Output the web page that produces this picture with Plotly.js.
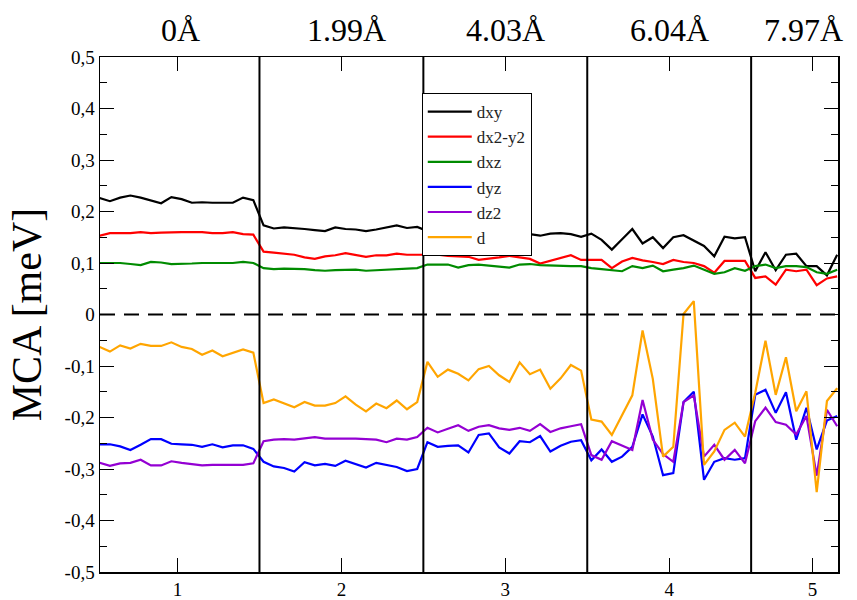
<!DOCTYPE html>
<html>
<head>
<meta charset="utf-8">
<script src="https://cdn.plot.ly/plotly-3.0.1.min.js"></script>
<style>html,body{margin:0;padding:0;background:#fff;}</style>
</head>
<body>
<div id="chart" style="width:857px;height:600px;"></div>
<script>
// x positions of the samples (16 per unit cell segment)
var xPos = [
  0.525, 0.5875, 0.65, 0.7125, 0.775, 0.8375, 0.9, 0.9625, 1.025, 1.0875, 1.15, 1.2125, 1.275, 1.3375, 1.4, 1.4625,
  1.525, 1.5875, 1.65, 1.7125, 1.775, 1.8375, 1.9, 1.9625, 2.025, 2.0875, 2.15, 2.2125, 2.275, 2.3375, 2.4, 2.4625,
  2.525, 2.5875, 2.65, 2.7125, 2.775, 2.8375, 2.9, 2.9625, 3.025, 3.0875, 3.15, 3.2125, 3.275, 3.3375, 3.4, 3.4625,
  3.525, 3.5875, 3.65, 3.7125, 3.775, 3.8375, 3.9, 3.9625, 4.025, 4.0875, 4.15, 4.2125, 4.275, 4.3375, 4.4, 4.4625,
  4.525, 4.5875, 4.65, 4.7125, 4.775, 4.8375, 4.9, 4.9625, 5.025
];

var dxy = [
  0.226, 0.220, 0.227, 0.231, 0.227, 0.221, 0.216, 0.228, 0.224, 0.217, 0.218, 0.217, 0.217, 0.217, 0.227, 0.222,
  0.173, 0.167, 0.169, 0.168, 0.166, 0.164, 0.162, 0.169, 0.166, 0.165, 0.162, 0.165, 0.169, 0.173, 0.168, 0.170,
  0.162, 0.160, 0.161, 0.159, 0.160, 0.158, 0.160, 0.159, 0.158, 0.157, 0.156, 0.153, 0.157, 0.158, 0.156, 0.151,
  0.157, 0.145, 0.126, 0.146, 0.166, 0.138, 0.150, 0.129, 0.150, 0.154, 0.143, 0.133, 0.113, 0.151, 0.148, 0.150,
  0.084, 0.121, 0.086, 0.116, 0.118, 0.094, 0.094, 0.076, 0.116
];
var dx2y2 = [
  0.153, 0.158, 0.158, 0.158, 0.160, 0.158, 0.159, 0.160, 0.160, 0.160, 0.160, 0.158, 0.158, 0.160, 0.156, 0.155,
  0.122, 0.120, 0.118, 0.116, 0.111, 0.108, 0.113, 0.115, 0.119, 0.115, 0.112, 0.115, 0.115, 0.118, 0.116, 0.116,
  0.116, 0.116, 0.114, 0.113, 0.112, 0.106, 0.108, 0.111, 0.114, 0.111, 0.108, 0.099, 0.104, 0.109, 0.115, 0.106,
  0.106, 0.106, 0.090, 0.103, 0.110, 0.105, 0.102, 0.098, 0.106, 0.102, 0.100, 0.094, 0.081, 0.104, 0.104, 0.104,
  0.071, 0.074, 0.058, 0.087, 0.084, 0.087, 0.057, 0.070, 0.074
];
var dxz = [
  0.100, 0.100, 0.100, 0.098, 0.096, 0.102, 0.101, 0.098, 0.098, 0.099, 0.100, 0.100, 0.100, 0.100, 0.102, 0.100,
  0.090, 0.088, 0.089, 0.089, 0.088, 0.086, 0.085, 0.086, 0.087, 0.087, 0.085, 0.086, 0.088, 0.089, 0.089, 0.090,
  0.097, 0.097, 0.097, 0.091, 0.096, 0.097, 0.095, 0.094, 0.091, 0.097, 0.098, 0.096, 0.095, 0.095, 0.094, 0.094,
  0.090, 0.088, 0.086, 0.084, 0.094, 0.090, 0.095, 0.084, 0.087, 0.090, 0.095, 0.087, 0.079, 0.082, 0.090, 0.085,
  0.094, 0.097, 0.090, 0.094, 0.094, 0.092, 0.082, 0.079, 0.087
];
var dyz = [
  -0.252, -0.252, -0.256, -0.263, -0.253, -0.242, -0.242, -0.251, -0.252, -0.253, -0.257, -0.252, -0.258, -0.254, -0.254, -0.261,
  -0.286, -0.295, -0.298, -0.305, -0.287, -0.293, -0.290, -0.294, -0.284, -0.290, -0.297, -0.288, -0.292, -0.296, -0.304, -0.300,
  -0.248, -0.257, -0.255, -0.254, -0.268, -0.234, -0.231, -0.258, -0.270, -0.246, -0.248, -0.236, -0.266, -0.255, -0.247, -0.244,
  -0.283, -0.262, -0.286, -0.276, -0.257, -0.194, -0.237, -0.312, -0.308, -0.170, -0.150, -0.321, -0.286, -0.279, -0.282, -0.279,
  -0.156, -0.146, -0.191, -0.151, -0.243, -0.181, -0.262, -0.206, -0.197
];
var dz2 = [
  -0.288, -0.294, -0.289, -0.288, -0.282, -0.293, -0.293, -0.285, -0.288, -0.290, -0.293, -0.292, -0.292, -0.292, -0.292, -0.289,
  -0.246, -0.243, -0.242, -0.243, -0.241, -0.238, -0.241, -0.241, -0.240, -0.241, -0.242, -0.243, -0.248, -0.241, -0.243, -0.238,
  -0.220, -0.229, -0.222, -0.215, -0.226, -0.218, -0.215, -0.221, -0.224, -0.220, -0.226, -0.213, -0.228, -0.221, -0.217, -0.213,
  -0.273, -0.282, -0.246, -0.255, -0.263, -0.166, -0.243, -0.271, -0.286, -0.170, -0.157, -0.276, -0.253, -0.282, -0.263, -0.289,
  -0.207, -0.181, -0.209, -0.214, -0.233, -0.197, -0.313, -0.185, -0.217
];
var dTot = [
  -0.063, -0.072, -0.060, -0.066, -0.057, -0.061, -0.061, -0.054, -0.063, -0.067, -0.078, -0.070, -0.081, -0.074, -0.068, -0.074,
  -0.172, -0.165, -0.172, -0.180, -0.170, -0.177, -0.177, -0.172, -0.159, -0.175, -0.188, -0.173, -0.182, -0.167, -0.184, -0.170,
  -0.092, -0.121, -0.107, -0.115, -0.128, -0.106, -0.100, -0.118, -0.131, -0.093, -0.116, -0.107, -0.144, -0.124, -0.098, -0.109,
  -0.204, -0.208, -0.234, -0.196, -0.157, -0.031, -0.125, -0.276, -0.257, 0.001, 0.026, -0.292, -0.266, -0.224, -0.210, -0.237,
  -0.152, -0.051, -0.156, -0.083, -0.188, -0.149, -0.345, -0.168, -0.143
];

var seriesNames = ['dxy', 'dx2-y2', 'dxz', 'dyz', 'dz2', 'd'];
var seriesColors = ['#000000', '#ff0000', '#008b00', '#0000ff', '#9400d3', '#ffa500'];
var seriesData = [dxy, dx2y2, dxz, dyz, dz2, dTot];

var boundaries = [1.5, 2.5, 3.5, 4.5];
var distLabels = ['0Å', '1.99Å', '4.03Å', '6.04Å', '7.97Å'];
var distLabelX = [1.02, 2.03, 3.0, 4.0, 4.82];

var xTickVals = [1, 2, 3, 4, 4.875];
var xTickText = ['1', '2', '3', '4', '5'];
var yTickVals = [-0.5, -0.4, -0.3, -0.2, -0.1, 0, 0.1, 0.2, 0.3, 0.4, 0.5];
var yTickText = ['-0,5', '-0,4', '-0,3', '-0,2', '-0,1', '0', '0,1', '0,2', '0,3', '0,4', '0,5'];

var SERIF = '"Liberation Serif", "Times New Roman", serif';

var traces = seriesData.map(function (ys, i) {
  return {
    x: xPos, y: ys, type: 'scatter', mode: 'lines', name: seriesNames[i],
    line: {color: seriesColors[i], width: 2.2}
  };
});

var shapes = boundaries.map(function (b) {
  return {type: 'line', xref: 'x', yref: 'paper', x0: b, x1: b, y0: 0, y1: 1,
          line: {color: '#000', width: 2}};
});
shapes.push({type: 'line', xref: 'paper', yref: 'y', x0: 0, x1: 1, y0: 0, y1: 0,
             line: {color: '#000', width: 2, dash: '15px,9px'}});

var annotations = distLabels.map(function (t, i) {
  return {text: t, x: distLabelX[i], xref: 'x', y: 1.052, yref: 'paper',
          xanchor: 'center', yanchor: 'middle', showarrow: false,
          font: {size: 32, color: '#000', family: SERIF}};
});

var layout = {
  width: 857, height: 600,
  margin: {l: 100, r: 19, t: 57, b: 28},
  paper_bgcolor: '#fff', plot_bgcolor: '#fff',
  font: {family: SERIF, color: '#000', size: 16},
  showlegend: true,
  legend: {x: 0.436, y: 0.930, xanchor: 'left', yanchor: 'top', bgcolor: '#fff',
           bordercolor: '#000', borderwidth: 1, itemwidth: 44,
           font: {family: SERIF, size: 17, color: '#222'}},
  xaxis: {range: [0.527, 5.03], tickvals: xTickVals, ticktext: xTickText,
          ticks: 'inside', ticklen: 14, tickwidth: 1, tickcolor: '#000',
          showline: true, linecolor: '#000', linewidth: 1.5, mirror: 'ticks',
          showgrid: false, zeroline: false,
          tickfont: {family: SERIF, size: 19, color: '#000'}},
  yaxis: {range: [-0.5, 0.5], tickvals: yTickVals, ticktext: yTickText,
          ticks: 'inside', ticklen: 14, tickwidth: 1, tickcolor: '#000',
          minor: {ticks: 'inside', ticklen: 7, dtick: 0.05, tick0: 0, tickcolor: '#000', showgrid: false},
          showline: true, linecolor: '#000', linewidth: 1.5, mirror: 'ticks',
          showgrid: false, zeroline: false,
          tickfont: {family: SERIF, size: 19, color: '#000'},
          title: {text: 'MCA [meV]', font: {family: SERIF, size: 42, color: '#000'}, standoff: 10}},
  shapes: shapes,
  annotations: annotations
};

Plotly.newPlot('chart', traces, layout, {displayModeBar: false, staticPlot: true});
</script>
</body>
</html>
